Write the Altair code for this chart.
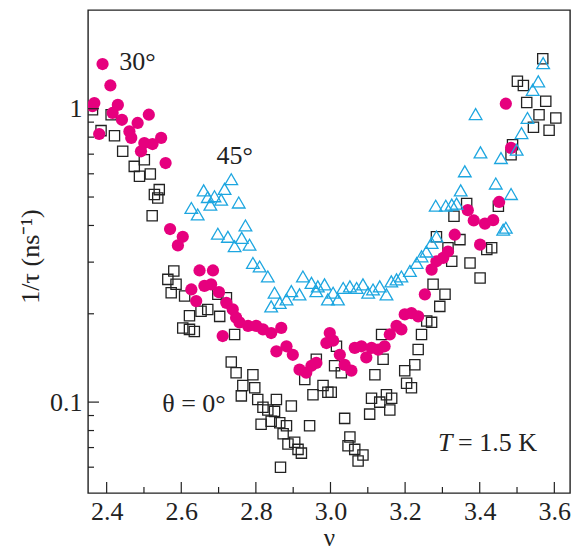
import altair as alt
import pandas as pd

# theta = 0 deg (open squares)
nu0 = [2.362, 2.412, 2.385, 2.421, 2.443, 2.474, 2.501, 2.488, 2.517, 2.541, 2.528, 2.537, 2.522,
       2.580, 2.564, 2.586, 2.573, 2.609, 2.622, 2.653, 2.671, 2.604, 2.622, 2.635, 2.703, 2.698,
       2.721, 2.743, 2.734, 2.747, 2.792, 2.765, 2.797, 2.761, 2.805, 2.855, 2.819, 2.832, 2.850,
       2.895, 2.814, 2.841, 2.864, 2.882, 2.873, 2.886, 2.904, 2.913, 2.922, 2.866, 2.944, 2.962,
       2.931, 2.953, 2.980, 2.993, 3.002, 3.038, 3.052, 3.047, 3.065, 3.087, 3.074, 3.016, 3.011,
       3.029, 3.137, 3.141, 3.119, 3.110, 3.150, 3.164, 3.132, 3.105, 3.159, 3.235, 3.226, 3.199,
       3.204, 3.217, 3.258, 3.271, 3.244, 3.275, 3.307, 3.293, 3.284, 3.347, 3.315, 3.325, 3.374,
       3.401, 3.419, 3.432, 3.365, 3.331, 3.450, 3.488, 3.484, 3.501, 3.517, 3.526, 3.577, 3.559,
       3.604, 3.544, 3.586, 3.569]
tau0 = [0.992, 0.954, 0.842, 0.809, 0.716, 0.636, 0.670, 0.589, 0.599, 0.530, 0.510, 0.496, 0.432,
        0.280, 0.262, 0.252, 0.236, 0.230, 0.197, 0.204, 0.207, 0.179, 0.177, 0.174, 0.196, 0.233,
        0.227, 0.170, 0.137, 0.126, 0.124, 0.114, 0.112, 0.105, 0.102, 0.102, 0.096, 0.094, 0.093,
        0.097, 0.084, 0.086, 0.085, 0.083, 0.078, 0.072, 0.073, 0.069, 0.067, 0.060, 0.083, 0.140,
        0.1195, 0.106, 0.114, 0.108, 0.108, 0.088, 0.076, 0.071, 0.069, 0.066, 0.063, 0.155, 0.133,
        0.126, 0.170, 0.140, 0.124, 0.103, 0.106, 0.103, 0.100, 0.091, 0.094, 0.151, 0.134, 0.128,
        0.116, 0.112, 0.189, 0.187, 0.170, 0.252, 0.233, 0.212, 0.366, 0.358, 0.336, 0.302, 0.298,
        0.265, 0.331, 0.336, 0.475, 0.430, 0.465, 0.754, 0.697, 1.24, 1.20, 1.05, 1.06, 0.954,
        0.930, 0.864, 0.844, 1.48]

# theta = 30 deg (filled circles)
nu30 = [2.389, 2.410, 2.367, 2.362, 2.430, 2.416, 2.441, 2.513, 2.483, 2.380, 2.461, 2.466, 2.546,
        2.523, 2.501, 2.492, 2.558, 2.570, 2.604, 2.591, 2.649, 2.685, 2.662, 2.680, 2.627, 2.701,
        2.640, 2.721, 2.738, 2.747, 2.756, 2.779, 2.801, 2.819, 2.841, 2.868, 2.711, 2.855, 2.882,
        2.899, 2.917, 2.935, 2.949, 2.962, 2.989, 2.998, 3.007, 3.025, 3.038, 3.056, 3.065, 3.083,
        3.110, 3.128, 3.096, 3.159, 3.145, 3.177, 3.190, 3.199, 3.217, 3.235, 3.253, 3.271, 3.284,
        3.302, 3.315, 3.333, 3.401, 3.368, 3.384, 3.414, 3.436, 3.452, 3.484, 3.470]
tau30 = [1.42, 1.20, 1.045, 1.02, 1.03, 0.967, 0.917, 0.954, 0.894, 0.820, 0.837, 0.795, 0.795,
         0.758, 0.764, 0.716, 0.653, 0.389, 0.366, 0.342, 0.281, 0.281, 0.249, 0.252, 0.242, 0.237,
         0.221, 0.218, 0.207, 0.194, 0.187, 0.182, 0.182, 0.177, 0.172, 0.179, 0.168, 0.149, 0.155,
         0.145, 0.129, 0.126, 0.133, 0.136, 0.159, 0.172, 0.162, 0.145, 0.134, 0.128, 0.153, 0.155,
         0.153, 0.151, 0.142, 0.170, 0.155, 0.182, 0.177, 0.199, 0.201, 0.196, 0.233, 0.283, 0.302,
         0.310, 0.326, 0.372, 0.344, 0.451, 0.416, 0.406, 0.417, 0.481, 0.735, 1.04]

# theta = 45 deg (open triangles)
nu45 = [2.734, 2.660, 2.716, 2.689, 2.671, 2.707, 2.678, 2.754, 2.627, 2.644, 2.772, 2.698, 2.725,
        2.762, 2.743, 2.783, 2.792, 2.810, 2.832, 2.926, 2.949, 2.966, 2.984, 2.850, 2.895, 2.917,
        2.962, 2.841, 2.864, 2.882, 2.993, 3.007, 3.020, 3.034, 3.052, 3.070, 3.087, 3.101, 3.114,
        3.132, 3.150, 3.163, 3.177, 3.190, 3.213, 3.231, 3.244, 3.257, 3.271, 3.284, 3.282, 3.309,
        3.325, 3.338, 3.349, 3.360, 3.389, 3.402, 3.443, 3.457, 3.484, 3.463, 3.470, 3.499, 3.512,
        3.528, 3.542, 3.557, 3.570]
tau45 = [0.575, 0.527, 0.533, 0.503, 0.500, 0.490, 0.471, 0.479, 0.459, 0.436, 0.400, 0.375, 0.366,
         0.363, 0.340, 0.344, 0.298, 0.290, 0.268, 0.268, 0.255, 0.248, 0.252, 0.236, 0.239, 0.233,
         0.239, 0.212, 0.218, 0.224, 0.224, 0.236, 0.224, 0.245, 0.248, 0.245, 0.252, 0.236, 0.242,
         0.248, 0.233, 0.258, 0.262, 0.268, 0.280, 0.298, 0.314, 0.326, 0.349, 0.367, 0.467, 0.467,
         0.471, 0.475, 0.527, 0.612, 0.959, 0.710, 0.556, 0.679, 0.512, 0.387, 0.393, 0.725, 0.826,
         0.930, 1.16, 1.24, 1.43]

x_major = [2.4, 2.6, 2.8, 3.0, 3.2, 3.4, 3.6]
x_minor = [2.5, 2.7, 2.9, 3.1, 3.3, 3.5]
y_major = [0.1, 1.0]
y_minor = [0.06, 0.07, 0.08, 0.09, 0.2, 0.3, 0.4, 0.5, 0.6, 0.7, 0.8, 0.9]

ann_text = ["30°", "45°", "θ = 0°", "= 1.5 K"]
ann_nu = [2.434, 2.743, 2.634, 3.342]
ann_tau = [1.445, 0.692, 0.0982, 0.0723]
ann_align = ["left", "center", "center", "left"]
italic_text = ["T"]
italic_nu = [3.288]
italic_tau = [0.0723]

W, H = 482, 483
FONT = "Liberation Serif"

xscale = alt.Scale(domain=[2.35, 3.642], nice=False, zero=False)
yscale = alt.Scale(type="log", domain=[0.049, 2.17], nice=False)

xaxis = alt.Axis(values=x_major, format=".1f", ticks=False, domain=False, grid=False,
                 labelFont=FONT, labelFontSize=26, labelColor="#222", labelPadding=5,
                 title="ν", titleFont=FONT, titleFontSize=25, titleFontWeight="normal",
                 titleColor="#222", titleY=52, titleBaseline="alphabetic")
yaxis = alt.Axis(values=y_major, format="~g", ticks=False, domain=False, grid=False,
                 labelFont=FONT, labelFontSize=26, labelColor="#222", labelPadding=6,
                 title="1/τ  (ns⁻¹)", titleFont=FONT, titleFontSize=26, titleFontWeight="normal",
                 titleColor="#222", titleX=-58, titleY=246, titleAngle=270,
                 titleBaseline="middle", titleAlign="center")

df0 = pd.DataFrame({"nu": nu0, "tau": tau0})
df30 = pd.DataFrame({"nu": nu30, "tau": tau30})
df45 = pd.DataFrame({"nu": nu45, "tau": tau45})

base_x = alt.X("nu:Q", scale=xscale, axis=xaxis)
base_y = alt.Y("tau:Q", scale=yscale, axis=yaxis)

squares = alt.Chart(df0).mark_point(shape="square", size=105, filled=False, stroke="#222",
                                    strokeWidth=1.3, opacity=1, clip=True).encode(x=base_x, y=base_y)
circles = alt.Chart(df30).mark_point(shape="circle", size=150, filled=True, fill="#E6007E",
                                     opacity=1, strokeWidth=0, clip=True).encode(
    x=alt.X("nu:Q", scale=xscale), y=alt.Y("tau:Q", scale=yscale))
triangles = alt.Chart(df45).mark_point(shape="triangle-up", size=160, filled=False, stroke="#1DA6E0",
                                       strokeWidth=1.3, opacity=1, clip=True).encode(
    x=alt.X("nu:Q", scale=xscale), y=alt.Y("tau:Q", scale=yscale))

xmaj = alt.Chart(pd.DataFrame({"v": x_major})).mark_rule(color="#222", strokeWidth=1.2).encode(
    x=alt.X("v:Q", scale=xscale), y=alt.value(H), y2=alt.value(H - 11))
xmin = alt.Chart(pd.DataFrame({"v": x_minor})).mark_rule(color="#222", strokeWidth=1.2).encode(
    x=alt.X("v:Q", scale=xscale), y=alt.value(H), y2=alt.value(H - 6))
ymaj = alt.Chart(pd.DataFrame({"v": y_major})).mark_rule(color="#222", strokeWidth=1.2).encode(
    y=alt.Y("v:Q", scale=yscale), x=alt.value(0), x2=alt.value(11))
ymin = alt.Chart(pd.DataFrame({"v": y_minor})).mark_rule(color="#222", strokeWidth=1.2).encode(
    y=alt.Y("v:Q", scale=yscale), x=alt.value(0), x2=alt.value(6))

ann_df = pd.DataFrame({"text": ann_text, "nu": ann_nu, "tau": ann_tau, "align": ann_align})
ann_left = alt.Chart(ann_df[ann_df["align"] == "left"]).mark_text(
    font=FONT, fontSize=26, color="#222", align="left", baseline="middle").encode(
    x=alt.X("nu:Q", scale=xscale), y=alt.Y("tau:Q", scale=yscale), text="text:N")
ann_center = alt.Chart(ann_df[ann_df["align"] == "center"]).mark_text(
    font=FONT, fontSize=26, color="#222", align="center", baseline="middle").encode(
    x=alt.X("nu:Q", scale=xscale), y=alt.Y("tau:Q", scale=yscale), text="text:N")
ann_it = alt.Chart(pd.DataFrame({"text": italic_text, "nu": italic_nu, "tau": italic_tau})).mark_text(
    font=FONT, fontSize=26, fontStyle="italic", color="#222", align="left", baseline="middle").encode(
    x=alt.X("nu:Q", scale=xscale), y=alt.Y("tau:Q", scale=yscale), text="text:N")

chart = alt.layer(squares, circles, triangles, xmaj, xmin, ymaj, ymin, ann_left, ann_center, ann_it).properties(
    width=W, height=H,
    autosize=alt.AutoSizeParams(type="none"),
    padding={"left": 88, "top": 10, "right": 5, "bottom": 59},
    background="white",
).configure_view(stroke="#222", strokeWidth=1.4)

chart.save("out.html", embed_options={"renderer": "svg", "actions": False})
